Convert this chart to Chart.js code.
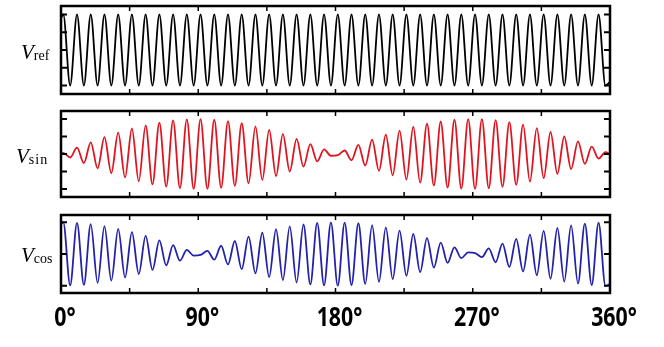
<!DOCTYPE html>
<html>
<head>
<meta charset="utf-8">
<script src="https://cdn.jsdelivr.net/npm/chart.js@4.4.0/dist/chart.umd.min.js"></script>
<style>
  html, body { margin: 0; padding: 0; background: #fff; }
  body { width: 664px; height: 347px; position: relative; overflow: hidden; }
  .painel { position: absolute; left: 0; width: 664px; }
  .rotulo { position: absolute; font-family: 'Liberation Serif', 'Times New Roman', serif; line-height: 21px; white-space: nowrap; color: #000; }
  .rotulo i { font-size: 21px; }
  .rotulo span { font-size: 14px; position: relative; top: 1px; }
</style>
</head>
<body>
<div class="painel" style="top:0;height:100px"><canvas id="grafico1"></canvas></div>
<div class="painel" style="top:100px;height:100px"><canvas id="grafico2"></canvas></div>
<div class="painel" style="top:200px;height:147px"><canvas id="grafico3"></canvas></div>
<div class="rotulo" style="left:21px;top:42px"><i>V</i><span>ref</span></div>
<div class="rotulo" style="left:16px;top:146px"><i>V</i><span style="letter-spacing:1px">sin</span></div>
<div class="rotulo" style="left:21px;top:245px"><i>V</i><span>cos</span></div>
<script>
// Dados: angulos (graus) dos picos e vales
const angles = [0,
  1.5, 6, 10.5, 15, 19.5, 24, 28.5, 33, 37.5, 42,
  46.5, 51, 55.5, 60, 64.5, 69, 73.5, 78, 82.5, 87,
  91.5, 96, 100.5, 105, 109.5, 114, 118.5, 123, 127.5, 132,
  136.5, 141, 145.5, 150, 154.5, 159, 163.5, 168, 172.5, 177,
  181.5, 186, 190.5, 195, 199.5, 204, 208.5, 213, 217.5, 222,
  226.5, 231, 235.5, 240, 244.5, 249, 253.5, 258, 262.5, 267,
  271.5, 276, 280.5, 285, 289.5, 294, 298.5, 303, 307.5, 312,
  316.5, 321, 325.5, 330, 334.5, 339, 343.5, 348, 352.5, 357,
  360];

const vRef = [0.9,
  1, -1, 1, -1, 1, -1, 1, -1, 1, -1,
  1, -1, 1, -1, 1, -1, 1, -1, 1, -1,
  1, -1, 1, -1, 1, -1, 1, -1, 1, -1,
  1, -1, 1, -1, 1, -1, 1, -1, 1, -1,
  1, -1, 1, -1, 1, -1, 1, -1, 1, -1,
  1, -1, 1, -1, 1, -1, 1, -1, 1, -1,
  1, -1, 1, -1, 1, -1, 1, -1, 1, -1,
  1, -1, 1, -1, 1, -1, 1, -1, 1, -1,
  -0.9];

const vSin = [0,
  0.03, -0.10, 0.18, -0.26, 0.33, -0.41, 0.48, -0.55, 0.61, -0.67,
  0.73, -0.78, 0.82, -0.87, 0.90, -0.93, 0.96, -0.98, 0.99, -1.00,
  1.00, -1.00, 0.98, -0.97, 0.94, -0.91, 0.88, -0.84, 0.79, -0.74,
  0.69, -0.63, 0.57, -0.50, 0.43, -0.36, 0.28, -0.21, 0.13, -0.05,
  -0.03, 0.10, -0.18, 0.26, -0.33, 0.41, -0.48, 0.55, -0.61, 0.67,
  -0.73, 0.78, -0.82, 0.87, -0.90, 0.93, -0.96, 0.98, -0.99, 1.00,
  -1.00, 1.00, -0.98, 0.97, -0.94, 0.91, -0.88, 0.84, -0.79, 0.74,
  -0.69, 0.63, -0.57, 0.50, -0.43, 0.36, -0.28, 0.21, -0.13, 0.05,
  0];

const vCos = [0.95,
  1.00, -0.99, 0.98, -0.97, 0.94, -0.91, 0.88, -0.84, 0.79, -0.74,
  0.69, -0.63, 0.57, -0.50, 0.43, -0.36, 0.28, -0.21, 0.13, -0.05,
  -0.03, 0.10, -0.18, 0.26, -0.33, 0.41, -0.48, 0.55, -0.61, 0.67,
  -0.73, 0.78, -0.82, 0.87, -0.90, 0.93, -0.96, 0.98, -0.99, 1.00,
  -1.00, 0.99, -0.98, 0.97, -0.94, 0.91, -0.88, 0.84, -0.79, 0.74,
  -0.69, 0.63, -0.57, 0.50, -0.43, 0.36, -0.28, 0.21, -0.13, 0.05,
  0.03, -0.10, 0.18, -0.26, 0.33, -0.41, 0.48, -0.55, 0.61, -0.67,
  0.73, -0.78, 0.82, -0.87, 0.90, -0.93, 0.96, -0.98, 0.99, -1.00,
  -0.95];

// Marcas dos eixos
const xTicks = [0, 45, 90, 135, 180, 225, 270, 315, 360];
const xLabelValues = [0, 90, 180, 270, 360];
const xLabels = ['0°', '90°', '180°', '270°', '360°'];
const yTicks5 = [-1, -0.5, 0, 0.5, 1];
const yTicks3 = [-1, 0, 1];

// Moldura com marcas para dentro
const molduraPlugin = {
  id: 'moldura',
  afterDatasetsDraw(chart, args, opts) {
    const ctx = chart.ctx;
    const a = chart.chartArea;
    const x = chart.scales.x;
    const y = chart.scales.y;
    ctx.save();
    ctx.strokeStyle = '#000';
    ctx.lineWidth = 1.5;
    xTicks.forEach(v => {
      const px = x.getPixelForValue(v);
      ctx.beginPath();
      ctx.moveTo(px, a.top); ctx.lineTo(px, a.top + 5);
      ctx.moveTo(px, a.bottom); ctx.lineTo(px, a.bottom - 5);
      ctx.stroke();
    });
    ctx.lineWidth = 2;
    opts.yTicks.forEach(v => {
      const py = y.getPixelForValue(v);
      ctx.beginPath();
      ctx.moveTo(a.left, py); ctx.lineTo(a.left + 6, py);
      ctx.moveTo(a.right, py); ctx.lineTo(a.right - 6, py);
      ctx.stroke();
    });
    ctx.lineWidth = 2.5;
    ctx.strokeRect(a.left, a.top, a.right - a.left, a.bottom - a.top);
    if (opts.labels) {
      // rotulos condensados do eixo x
      ctx.fillStyle = '#000';
      ctx.font = 'bold 26px "Open Sans", "Noto Sans", sans-serif';
      ctx.textAlign = 'center';
      ctx.textBaseline = 'alphabetic';
      xLabelValues.forEach((v, i) => {
        const px = x.getPixelForValue(v) + 4;
        ctx.save();
        ctx.translate(px, a.bottom + 33);
        ctx.scale(0.82, 1);
        ctx.fillText(xLabels[i], 0, 0);
        ctx.restore();
      });
    }
    ctx.restore();
  }
};

function criaGrafico(id, valores, cor, yMax, yTicks, padding, labels) {
  return new Chart(document.getElementById(id), {
    type: 'line',
    data: {
      datasets: [{
        data: angles.map((a, i) => ({ x: a, y: valores[i] })),
        borderColor: cor,
        borderWidth: 1.8,
        pointRadius: 0,
        cubicInterpolationMode: 'monotone',
        fill: false
      }]
    },
    options: {
      responsive: true,
      maintainAspectRatio: false,
      animation: false,
      layout: { padding },
      scales: {
        x: { type: 'linear', min: 0, max: 360, display: false },
        y: { min: -yMax, max: yMax, display: false }
      },
      plugins: {
        legend: { display: false },
        tooltip: { enabled: false },
        moldura: { yTicks, labels }
      }
    },
    plugins: [molduraPlugin]
  });
}

const chart1 = criaGrafico('grafico1', vRef, '#000000', 1.24, yTicks5, { left: 61, right: 54, top: 6, bottom: 6 }, false);
const chart2 = criaGrafico('grafico2', vSin, '#e0141e', 1.23, yTicks5, { left: 61, right: 54, top: 11, bottom: 3 }, false);
const chart3 = criaGrafico('grafico3', vCos, '#2222aa', 1.23, yTicks3, { left: 61, right: 54, top: 15, bottom: 54 }, true);
</script>
</body>
</html>
